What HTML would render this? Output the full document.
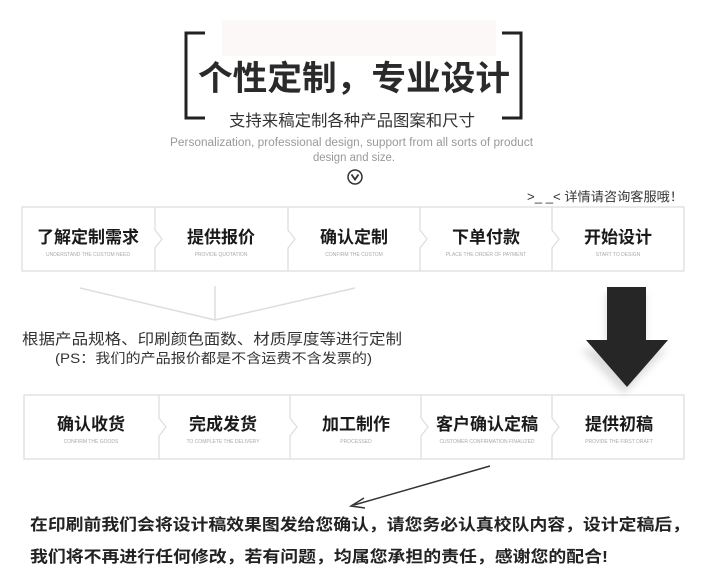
<!DOCTYPE html>
<html><head><meta charset="utf-8"><style>
html,body{margin:0;padding:0;background:#fff}
svg{display:block}
text{font-family:"Liberation Sans","Noto Sans CJK SC",sans-serif}
</style></head><body>
<svg width="720" height="582" viewBox="0 0 720 582" xmlns="http://www.w3.org/2000/svg">
<rect x="222" y="20" width="274" height="36" fill="#fdf8f8"/>
<!-- brackets -->
<polyline points="205,33 186,33 186,118 205,118" fill="none" stroke="#222" stroke-width="3"/>
<polyline points="502,33 521,33 521,118 502,118" fill="none" stroke="#222" stroke-width="3"/>
<text x="198" y="90" font-size="34" font-weight="bold" fill="#2a2a2a" textLength="312" lengthAdjust="spacingAndGlyphs">个性定制，专业设计</text>
<text x="229" y="126" font-size="16" fill="#333" textLength="246" lengthAdjust="spacingAndGlyphs">支持来稿定制各种产品图案和尺寸</text>
<text x="170" y="146" font-size="11.5" fill="#999" textLength="363" lengthAdjust="spacingAndGlyphs">Personalization, professional design, support from all sorts of product</text>
<text x="313" y="161" font-size="11.5" fill="#999" textLength="82" lengthAdjust="spacingAndGlyphs">design and size.</text>
<circle cx="355" cy="177" r="7" fill="none" stroke="#333" stroke-width="1.5"/>
<polyline points="351.5,174.5 355,179.5 358.5,174.5" fill="none" stroke="#333" stroke-width="1.8"/>
<text x="527" y="201" font-size="12.5" fill="#333" textLength="156" lengthAdjust="spacingAndGlyphs">&gt;_ _&lt;  详情请咨询客服哦！</text>

<!-- top row -->
<rect x="22" y="207" width="662" height="64" fill="none" stroke="#ddd" stroke-width="1.2"/>
<g fill="none" stroke="#ddd" stroke-width="1.2">
<polyline points="155,207 155,230 162,239 155,248 155,271"/>
<polyline points="288,207 288,230 295,239 288,248 288,271"/>
<polyline points="420,207 420,230 427,239 420,248 420,271"/>
<polyline points="552,207 552,230 559,239 552,248 552,271"/>
</g>
<g font-size="17" font-weight="bold" fill="#1a1a1a" text-anchor="middle">
<text x="88" y="243">了解定制需求</text>
<text x="221" y="243">提供报价</text>
<text x="354" y="243">确认定制</text>
<text x="486" y="243">下单付款</text>
<text x="618" y="243">开始设计</text>
</g>
<g font-size="5" fill="#aaa" text-anchor="middle">
<text x="88" y="256">UNDERSTAND THE CUSTOM NEED</text>
<text x="221" y="256">PROVIDE QUOTATION</text>
<text x="354" y="256">CONFIRM THE CUSTOM</text>
<text x="486" y="256">PLACE THE ORDER OF PAYMENT</text>
<text x="618" y="256">START TO DESIGN</text>
</g>

<!-- converging lines -->
<g stroke="#ddd" stroke-width="1.5" fill="none">
<line x1="80" y1="288" x2="215" y2="320"/>
<line x1="215" y1="286" x2="215" y2="320"/>
<line x1="355" y1="288" x2="215" y2="320"/>
</g>
<text x="22" y="344" font-size="15" fill="#333" textLength="380" lengthAdjust="spacingAndGlyphs">根据产品规格、印刷颜色面数、材质厚度等进行定制</text>
<text x="55" y="363" font-size="13.5" fill="#333" textLength="317" lengthAdjust="spacingAndGlyphs">(PS：我们的产品报价都是不含运费不含发票的)</text>

<!-- big arrow -->
<defs><filter id="sh" x="-30%" y="-30%" width="160%" height="160%"><feGaussianBlur stdDeviation="4"/></filter></defs>
<polygon points="609,290 648,290 648,345 670,345 627,390 584,345 609,345" fill="#bbb" opacity="0.5" filter="url(#sh)" transform="translate(-3,4)"/>
<polygon points="607,287 646,287 646,340 668,340 627,387 586,340 607,340" fill="#262626"/>

<!-- bottom row -->
<rect x="24" y="395" width="660" height="64" fill="none" stroke="#ddd" stroke-width="1.2"/>
<g fill="none" stroke="#ddd" stroke-width="1.2">
<polyline points="159,395 159,418 166,427 159,436 159,459"/>
<polyline points="290,395 290,418 297,427 290,436 290,459"/>
<polyline points="421,395 421,418 428,427 421,436 421,459"/>
<polyline points="552,395 552,418 559,427 552,436 552,459"/>
</g>
<g font-size="17" font-weight="bold" fill="#1a1a1a" text-anchor="middle">
<text x="91" y="430">确认收货</text>
<text x="223" y="430">完成发货</text>
<text x="356" y="430">加工制作</text>
<text x="487" y="430">客户确认定稿</text>
<text x="619" y="430">提供初稿</text>
</g>
<g font-size="5" fill="#aaa" text-anchor="middle">
<text x="91" y="443">CONFIRM THE GOODS</text>
<text x="223" y="443">TO COMPLETE THE DELIVERY</text>
<text x="356" y="443">PROCESSED</text>
<text x="487" y="443">CUSTOMER CONFIRMATION FINALIZED</text>
<text x="619" y="443">PROVIDE THE FIRST DRAFT</text>
</g>

<!-- diagonal arrow -->
<line x1="490" y1="466" x2="354" y2="505" stroke="#333" stroke-width="1.5"/>
<polyline points="364,498 351,506 365,508" fill="none" stroke="#333" stroke-width="1.5"/>

<text x="30" y="530" font-size="16" font-weight="bold" fill="#222" textLength="660" lengthAdjust="spacingAndGlyphs">在印刷前我们会将设计稿效果图发给您确认，请您务必认真校队内容，设计定稿后，</text>
<text x="30" y="562" font-size="16" font-weight="bold" fill="#222" textLength="578" lengthAdjust="spacingAndGlyphs">我们将不再进行任何修改，若有问题，均属您承担的责任，感谢您的配合!</text>
</svg>
</body></html>
